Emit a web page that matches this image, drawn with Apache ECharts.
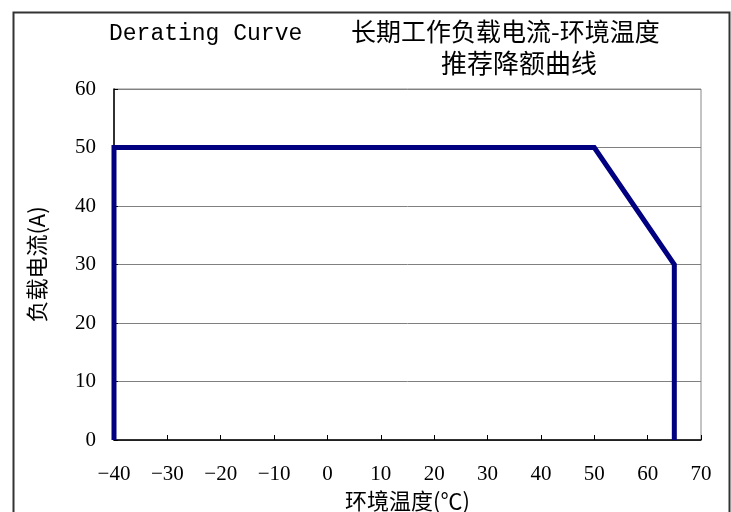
<!DOCTYPE html>
<html><head><meta charset="utf-8">
<script src="https://cdn.jsdelivr.net/npm/echarts@6/dist/echarts.min.js"></script>
<style>html,body{margin:0;padding:0;background:#fff}#c{width:731px;height:512px}</style>
</head><body><div id="c"></div>
<script>
const temps = [-40, -40, 50, 65, 65];
const currents = [0, 50, 50, 30, 0];
const xTicks = [-40, 70, 10];
const yTicks = [0, 60, 10];
const titleEn = 'Derating Curve';
const titleCn1 = '长期工作负载电流-环境温度';
const titleCn2 = '推荐降额曲线';
const xName = '环境温度(℃)';
const yName = '负载电流(A)';

const serif = "'Liberation Serif','DejaVu Serif','Noto Sans CJK SC'";
const cjk = "'Noto Sans CJK SC'";
const chart = echarts.init(document.getElementById('c'));
chart.setOption({
  animation: false,
  backgroundColor: '#fff',
  title: [
    {text: titleEn, left: 104, top: 17, textStyle: {fontFamily: "'Liberation Mono','DejaVu Sans Mono'", fontSize: 23, fontWeight: 'normal', color: '#000'}},
    {text: titleCn1, left: 346, top: 14, textStyle: {fontFamily: cjk, fontSize: 25, fontWeight: 'normal', color: '#000'}},
    {text: titleCn2, left: 436, top: 45, textStyle: {fontFamily: cjk, fontSize: 26, fontWeight: 'normal', color: '#000'}}
  ],
  graphic: [{
    type: 'rect', left: 11, top: 10, silent: true,
    shape: {width: 716, height: 510},
    style: {fill: 'none', stroke: '#333', lineWidth: 2}
  }],
  grid: {left: 114, right: 30, top: 89, bottom: 72, outerBoundsMode: 'none', containLabel: false,
    show: true, borderColor: '#888', borderWidth: 1, backgroundColor: '#fff'},
  xAxis: {
    type: 'value', min: xTicks[0], max: xTicks[1], interval: xTicks[2],
    name: xName, nameLocation: 'middle', nameGap: 48,
    nameTextStyle: {fontFamily: cjk, fontSize: 22, color: '#000'},
    axisLine: {show: true, onZero: false, lineStyle: {color: '#000', width: 1.5}},
    axisTick: {show: true, inside: true, length: 5, lineStyle: {color: '#000'}},
    axisLabel: {margin: 24, fontFamily: serif, fontSize: 21, color: '#000',
      formatter: v => v < 0 ? '\u2212' + Math.abs(v) : String(v)},
    splitLine: {show: false}
  },
  yAxis: {
    type: 'value', min: yTicks[0], max: yTicks[1], interval: yTicks[2],
    name: yName, nameLocation: 'middle', nameGap: 66, nameRotate: 90,
    nameTextStyle: {fontFamily: cjk, fontSize: 22, color: '#000'},
    axisLine: {show: true, onZero: false, lineStyle: {color: '#000', width: 1.5}},
    axisTick: {show: true, inside: true, length: 4, lineStyle: {color: '#000'}},
    axisLabel: {margin: 18, fontFamily: serif, fontSize: 21, color: '#000'},
    splitLine: {show: true, lineStyle: {color: '#808080', width: 1}}
  },
  series: [{
    type: 'line',
    data: temps.map((t, i) => [t, currents[i]]),
    showSymbol: false, symbol: 'none',
    lineStyle: {color: '#000080', width: 5, join: 'miter'},
    z: 5
  }]
});
</script></body></html>
